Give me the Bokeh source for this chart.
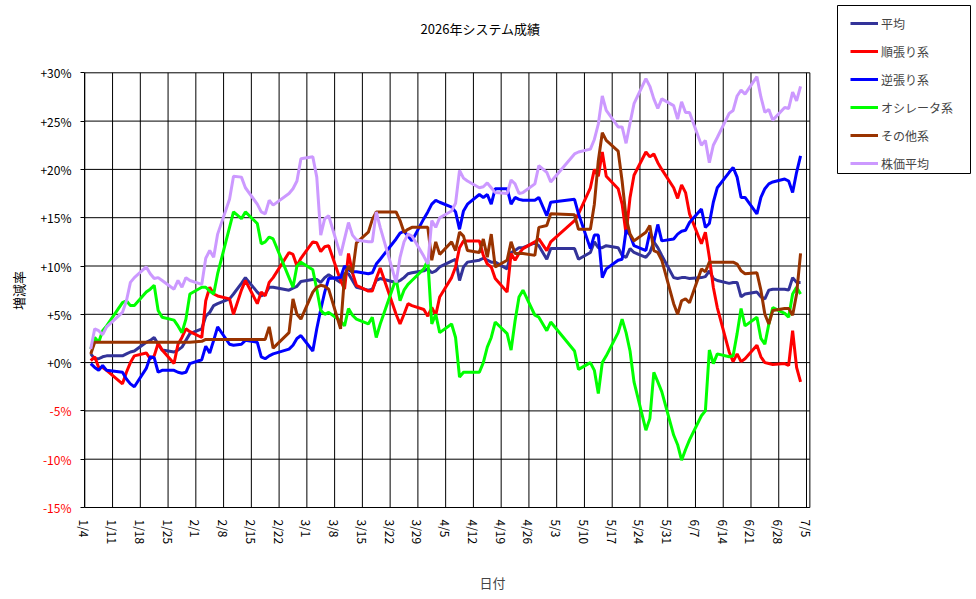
import math
import pandas as pd
from bokeh.plotting import figure
from bokeh.models import (FixedTicker, Range1d, Legend, LegendItem, Label, LabelSet,
                          ColumnDataSource, BoxAnnotation)
from bokeh.core.properties import value
from bokeh.embed import file_html
from bokeh.resources import INLINE

# ---------------- data ----------------
HOLIDAYS = ["2026-01-12", "2026-02-11", "2026-02-23", "2026-03-20",
            "2026-04-29", "2026-05-04", "2026-05-05", "2026-05-06"]
trade_dates = [d for d in pd.bdate_range("2026-01-05", "2026-07-03")
               if d.strftime("%Y-%m-%d") not in HOLIDAYS]

avg = [0.9, 0.4, 0.4, 0.6, 0.7,  0.7, 0.9, 1.1, 1.2,  2.1, 2.3, 2.6, 1.9, 1.3,
       1.1, 1.3, 1.6, 2.3, 3.0,  3.5, 4.8, 5.2, 5.9, 6.1,  6.6, 7.1, 8.2, 8.8,
       7.3, 6.9, 7.1, 7.8, 7.8,  7.5, 7.7, 7.9, 8.4,  8.6, 8.6, 8.3, 8.8, 9.1,
       8.3, 9.2, 9.2, 8.5, 7.8,  7.5, 7.6, 8.5, 8.7,  8.3, 8.5, 8.8, 9.2, 9.3,
       9.5, 9.7, 9.3, 9.5, 9.9,  10.5, 10.7, 8.5, 9.9, 10.4,  10.6, 10.8, 10.6, 10.4, 10.4,
       9.7, 11.4, 11.6, 11.9, 11.9,  12.4, 12.1, 10.7, 11.8,  11.8, 10.7,
       11.4, 12.5, 11.9, 11.9, 12.1,  11.9, 11.1, 10.9, 11.8, 11.4,
       10.9, 11.4, 12.5, 11.9, 11.1,  8.8, 8.7, 8.8, 8.8, 8.7,
       8.8, 8.9, 9.5, 8.7, 8.5,  8.2, 8.3, 8.3, 6.8, 7.1,
       7.3, 6.8, 6.6, 7.5, 7.6,  7.6, 7.5, 8.8, 8.3, 8.3]

trend = [0.2, 0.6, -0.5, -0.5, -0.8,  -2.2, -1.0, 0.0, 0.7,  1.0, 0.4, 0.7, 2.0, 1.3,
         -0.1, 1.9, 2.6, 3.5, 3.2,  2.6, 6.4, 7.8, 7.1, 6.9,  6.6, 5.0, 7.5, 8.5,
         6.1, 7.3, 6.9, 8.3, 8.8,  11.4, 11.2, 10.0, 10.8,  12.5, 12.4, 11.5, 12.0, 12.1,
         8.5, 7.6, 11.3, 9.3, 8.0,  7.4, 7.4, 8.7, 9.8,  5.0, 4.0, 5.0, 6.1, 5.9,
         5.5, 4.8, 5.7, 4.9, 6.8,  8.8, 9.9, 11.9, 12.6, 12.6,  12.6, 11.1, 10.2, 9.9, 8.7,
         7.3, 11.3, 10.6, 11.3, 11.8,  12.5, 12.8, 11.6, 12.5,  14.7, 15.4,
         18.1, 20.0, 19.3, 21.8, 19.3,  18.0, 16.4, 13.3, 17.1, 19.4,
         21.8, 21.3, 21.6, 20.7, 20.0,  18.1, 17.0, 18.4, 17.6, 15.4,
         12.3, 13.5, 10.9, 7.8, 5.7,  1.1, 0.1, 0.9, 0.1, 0.4,
         1.8, 0.6, 0.0, -0.1, -0.2,  -0.1, -0.3, 3.3, -0.5, -2.0]

counter = [-0.1, -0.5, -0.8, -0.3, -0.8,  -1.0, -1.7, -2.2, -2.5,  -0.6, 0.6, 0.5, -1.0, -0.8,
           -0.8, -1.0, -1.1, -1.0, -0.1,  0.3, 1.7, 1.0, 2.3, 3.7,  1.9, 1.8, 1.9, 2.3,
           2.1, 0.6, 0.4, 0.7, 0.9,  1.4, 1.8, 2.5, 2.8,  1.2, 3.5, 5.5, 7.3, 8.7,
           8.8, 10.0, 9.6, 9.4, 9.4,  9.2, 9.3, 10.2, 10.7,  12.8, 13.4, 13.6, 13.1, 12.6,
           14.9, 15.6, 16.4, 16.8, 16.6,  16.1, 15.6, 13.8, 15.7, 16.4,  17.4, 17.1, 17.4, 16.4, 18.0,
           18.0, 16.4, 17.1, 16.9, 16.8,  16.8, 17.1, 15.2, 16.6,  16.9, 15.4,
           11.8, 13.2, 13.2, 8.8, 9.7,  10.6, 10.7, 13.7, 13.2, 12.1,
           11.6, 13.5, 12.5, 14.3, 12.6,  12.8, 13.3, 13.6, 13.7, 14.5,
           15.9, 14.0, 14.4, 16.6, 18.1,  19.7, 20.2, 19.2, 17.1, 17.1,
           15.4, 17.1, 18.0, 18.5, 18.7,  19.0, 18.8, 17.6, 19.7, 21.4]

osc = [1.4, 2.6, 2.1, 3.3, 3.8,  6.2, 6.4, 5.9, 5.9,  7.3, 7.6, 8.0, 5.4, 4.7,
       4.4, 3.8, 3.1, 4.5, 7.1,  7.8, 7.8, 7.4, 7.1, 9.2,  14.0, 15.6, 14.9, 15.6,
       14.4, 12.3, 12.5, 13.0, 12.8,  8.8, 7.8, 10.0, 10.4,  9.6, 7.6, 5.4, 5.0, 5.2,
       4.3, 3.8, 5.6, 4.9, 4.5,  4.0, 4.7, 2.6, 4.0,  8.7, 6.4, 7.5, 8.1, 8.5,
       9.7, 10.6, 4.0, 5.0, 3.1,  4.0, 2.6, -1.5, -1.0, -1.0,  -1.0, 0.0, 1.6, 2.6, 4.2,
       3.0, 1.3, 4.3, 6.8, 7.5,  4.9, 4.7, 3.3, 4.2,  1.2, -0.7,
       0.0, -0.8, -3.2, 0.0, 0.7,  3.1, 4.5, 3.1, 1.2, -2.0,
       -7.0, -5.8, -1.0, -2.0, -3.0,  -7.5, -8.5, -10.1, -9.0, -8.0,
       -5.5, -5.0, 1.3, -0.1, 0.9,  0.6, 0.7, 3.0, 5.6, 3.8,
       4.7, 2.5, 1.9, 4.0, 5.7,  5.1, 4.7, 7.1, 7.8, 7.1]

other = [0.9, 2.1, 2.1, 2.1, 2.1,  2.1, 2.1, 2.1, 2.1,  2.1, 2.1, 2.1, 2.1, 2.1,
         2.1, 2.1, 2.1, 2.1, 2.1,  2.2, 2.4, 2.4, 2.4, 2.4,  2.4, 2.4, 2.4, 2.4,
         2.4, 2.4, 2.4, 3.7, 1.5,  3.1, 6.6, 5.0, 4.5,  7.3, 7.8, 8.0, 7.9, 7.6,
         3.5, 9.0, 10.0, 9.3, 12.4,  13.5, 14.8, 15.6, 15.6,  15.6, 14.7, 13.5, 13.8, 14.0,
         14.0, 14.0, 10.6, 12.5, 11.2,  12.5, 11.6, 13.5, 13.1, 11.6,  11.4, 12.8, 10.9, 13.3, 9.9,
         10.6, 12.5, 11.3, 11.3, 11.3,  11.1, 14.0, 14.2, 15.4,  15.3, 13.8,
         13.8, 16.4, 20.9, 23.8, 23.0,  21.9, 18.8, 15.0, 13.3, 12.6,
         13.5, 14.2, 11.6, 11.4, 10.6,  6.1, 5.0, 6.4, 6.6, 6.2,
         9.7, 9.4, 10.4, 10.4, 10.4,  10.4, 10.4, 10.2, 9.5, 9.2,
         9.3, 7.5, 5.0, 4.0, 5.4,  5.6, 5.6, 4.9, 7.1, 11.3]

stock = [1.4, 3.5, 3.3, 2.9, 3.7,  5.2, 6.4, 8.3, 8.8,  9.9, 9.2, 8.7, 8.8, 8.5,
         7.6, 8.5, 7.8, 8.8, 8.5,  8.1, 10.8, 11.6, 10.9, 13.3,  16.9, 19.3, 19.2, 18.1,
         16.4, 15.6, 15.4, 16.8, 16.3,  17.5, 18.0, 18.8, 21.1,  21.3, 19.2, 13.2, 14.9, 15.2,
         11.1, 12.8, 14.5, 13.2, 12.7,  12.5, 12.5, 15.6, 14.0,  8.3, 10.9, 12.5, 13.3, 13.1,
         11.0, 10.2, 14.7, 14.0, 15.0,  15.7, 16.5, 19.9, 19.1, 18.8,  18.1, 18.2, 18.6, 18.1, 17.6,
         17.5, 18.9, 18.5, 17.5, 17.6,  18.5, 20.4, 19.7, 18.7,  21.6, 21.8,
         22.1, 23.1, 24.7, 27.6, 26.1,  24.4, 24.4, 22.7, 24.8, 26.8,
         29.4, 28.6, 27.3, 26.3, 27.3,  26.6, 25.2, 27.0, 25.9, 25.9,
         22.5, 23.0, 20.7, 22.5, 23.3,  25.8, 26.1, 27.6, 28.2, 27.8,
         29.6, 27.5, 25.9, 26.2, 25.1,  26.4, 26.3, 28.0, 27.1, 28.6]

series_names = ["平均", "順張り系", "逆張り系", "オシレータ系", "その他系", "株価平均"]
series_values = [avg, trend, counter, osc, other, stock]
series_colors = ["#333399", "#FF0000", "#0000FF", "#00FF00", "#993300", "#CC99FF"]

y_ticks = [-15, -10, -5, 0, 5, 10, 15, 20, 25, 30]
y_tick_labels = ["-15%", "-10%", "-5%", "+0%", "+5%", "+10%", "+15%", "+20%", "+25%", "+30%"]
y_tick_colors = ["#FF0000" if v < 0 else "#000000" for v in y_ticks]

tick_dates = pd.date_range("2026-01-04", "2026-07-05", freq="7D")

TITLE = "2026年システム成績"
Y_TITLE = "増減率"
X_TITLE = "日付"

# ---------------- layout ----------------
origin = pd.Timestamp("2026-01-04")
xs = [(d - origin).days + 0.5 for d in trade_dates]
tick_pos = [(d - origin).days for d in tick_dates]
tick_labels = [f"{d.month}/{d.day}" for d in tick_dates]

FONT = "Noto Sans CJK JP"
W, H = 976, 599
FL, FB = 8, 515              # frame left / frame bottom (pixels)
AREA_L, AREA_T, AREA_B = 84.3, 72.3, 507.0   # plot area edges (pixels)
PX_DAY = 3.9654
X_END = 182.85               # right edge of the plot area (days)
Y_MIN, Y_MAX = -15, 30
PX_PCT = (AREA_B - AREA_T) / (Y_MAX - Y_MIN)

x0 = -(AREA_L - FL) / PX_DAY
x1 = x0 + (W - FL) / PX_DAY
y1 = Y_MAX + AREA_T / PX_PCT
y0 = Y_MIN - (FB - AREA_B) / PX_PCT

p = figure(width=W, height=H, x_range=Range1d(x0, x1), y_range=Range1d(y0, y1),
           output_backend="svg", toolbar_location=None,
           min_border=0, min_border_left=FL, min_border_right=0,
           min_border_top=0, min_border_bottom=H - FB)
p.background_fill_color = "white"
p.border_fill_color = "white"
p.outline_line_color = None
p.xgrid.visible = False
p.ygrid.visible = False

# x axis (dates): labels hang just below the plot area
p.xaxis.ticker = FixedTicker(ticks=tick_pos)
p.xaxis.bounds = (0, X_END)
p.xaxis.axis_line_color = None
p.xaxis.major_tick_line_color = None
p.xaxis.major_tick_out = 0
p.xaxis.major_tick_in = 0
p.xaxis.minor_tick_line_color = None
p.xaxis.major_label_overrides = dict(zip(tick_pos, tick_labels))
p.xaxis.major_label_orientation = "vertical"
p.xaxis.major_label_text_font = FONT
p.xaxis.major_label_text_font_size = "12px"
p.xaxis.major_label_text_color = "black"
p.xaxis.major_label_standoff = 4
p.xaxis.axis_label = X_TITLE
p.xaxis.axis_label_text_font = FONT
p.xaxis.axis_label_text_font_size = "13px"
p.xaxis.axis_label_text_font_style = "normal"
p.xaxis.axis_label_standoff = 26

# y axis (percent), drawn at the plot-area left edge
p.yaxis.ticker = FixedTicker(ticks=y_ticks)
p.yaxis.bounds = (Y_MIN, Y_MAX)
p.yaxis.fixed_location = 0
p.yaxis.major_label_overrides = {v: "" for v in y_ticks}
p.yaxis.major_label_standoff = 0
p.yaxis.axis_line_color = "black"
p.yaxis.major_tick_line_color = "black"
p.yaxis.minor_tick_line_color = None
p.yaxis.major_tick_out = 4
p.yaxis.major_tick_in = 0

# grid lines of the plot area
gx = tick_pos + [X_END]
p.segment(x0=gx, y0=[Y_MIN] * len(gx), x1=gx, y1=[Y_MAX] * len(gx),
          line_color="black", line_width=1)
p.segment(x0=[0] * len(y_ticks), y0=y_ticks, x1=[X_END] * len(y_ticks), y1=y_ticks,
          line_color="black", line_width=1)

renderers = []
for name, vals, col in zip(series_names, series_values, series_colors):
    r = p.line(xs, vals, line_width=3, line_color=col)
    renderers.append(r)

# y tick labels (negative ones in red)
ysrc = ColumnDataSource(dict(y=y_ticks, t=y_tick_labels, c=y_tick_colors))
p.add_layout(LabelSet(x=71 - FL, y="y", text="t", text_color="c", source=ysrc,
                      x_units="screen", text_align="right", text_baseline="middle",
                      text_font=value(FONT), text_font_size=value("12px")))

# title and y axis title
p.add_layout(Label(x=480 - FL, y=FB - 28, x_units="screen", y_units="screen", text=TITLE,
                   text_align="center", text_baseline="middle", text_font=FONT,
                   text_font_size="13px", text_color="black"))
p.add_layout(Label(x=18 - FL, y=FB - 290, x_units="screen", y_units="screen", text=Y_TITLE,
                   angle=math.pi / 2, text_align="center", text_baseline="middle",
                   text_font=FONT, text_font_size="13px", text_color="black"))

# legend box and legend
p.add_layout(BoxAnnotation(left=837 - FL, right=970 - FL, top=FB - 5, bottom=FB - 173,
                           left_units="screen", right_units="screen",
                           top_units="screen", bottom_units="screen",
                           fill_color="white", fill_alpha=1,
                           line_color="black", line_width=1, line_alpha=1))
legend = Legend(items=[LegendItem(label=n, renderers=[r]) for n, r in zip(series_names, renderers)],
                location=(850 - FL, FB - 173), border_line_color=None, background_fill_alpha=0,
                label_text_font=FONT, label_text_font_size="12px",
                glyph_width=28, glyph_height=20, label_height=20, spacing=8,
                padding=5, margin=0, label_standoff=3)
p.add_layout(legend)

with open("out.html", "w", encoding="utf-8") as f:
    f.write(file_html(p, INLINE))
